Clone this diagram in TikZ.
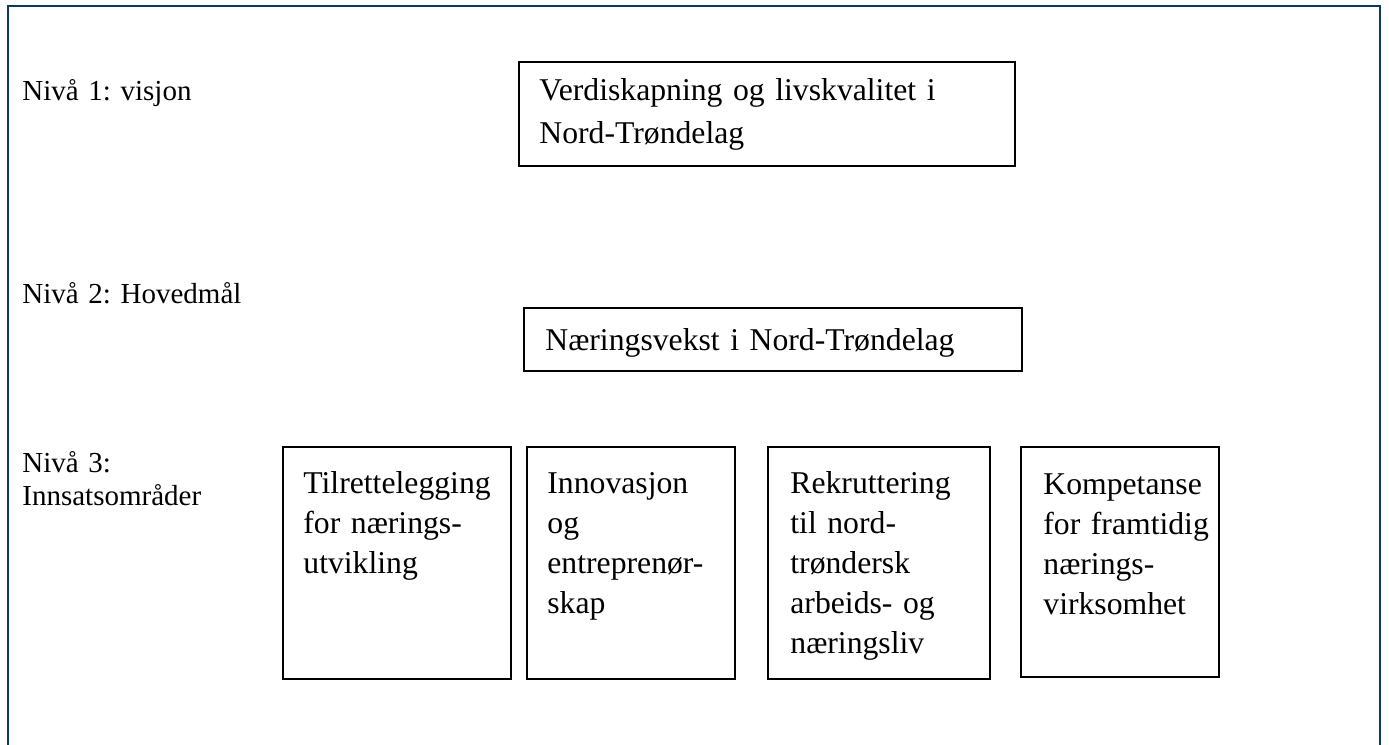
\documentclass[tikz,border=0pt]{standalone}
\usepackage{fontspec}
\setmainfont{Liberation Serif}
\definecolor{framecol}{HTML}{0B3B58}
\frenchspacing
\begin{document}
\begin{tikzpicture}[x=0.5pt,y=-0.5pt,
  box/.style={draw=black,line width=0.9pt,rectangle,inner sep=0pt},
  boxtext/.style={inner sep=0pt,anchor=base west,align=left,text width=#1},
  boxtext/.default=120pt,
  lvl/.style={inner sep=0pt,anchor=base west,align=left,text width=200pt,
    font=\fontsize{14.5}{16.5}\selectfont}
]
\useasboundingbox (0,0) rectangle (1389,745);
\coordinate (fbl) at (8,746);
\coordinate (ftl) at (8,6);
\coordinate (ftr) at (1380,6);
\coordinate (fbr) at (1380,746);
\draw[framecol,line width=1.1pt] (fbl) -- (ftl) -- (ftr) -- (fbr);

% level labels
\node[lvl] (l1) at (22,100) {Nivå 1: visjon};
\node[lvl] (l2) at (22,303) {Nivå 2: Hovedmål};
\node[lvl] (l3) at (22,472) {Nivå 3:\\Innsatsområder};

% boxes
\draw[box] (519,62) rectangle (1015,166);
\node[boxtext=240pt,font=\fontsize{15.85}{21.5}\selectfont] (vis) at (539,100) {Verdiskapning og livskvalitet i\\Nord-Trøndelag};

\draw[box] (524,308) rectangle (1022,371);
\node[boxtext=240pt,font=\fontsize{15.85}{20}\selectfont] (hov) at (545,350) {Næringsvekst i Nord-Trøndelag};

\draw[box] (283,447) rectangle (511,679);
\node[boxtext,font=\fontsize{15.85}{20}\selectfont] (b1) at (303,493) {Tilrettelegging\\for nærings-\\utvikling};

\draw[box] (527,447) rectangle (735,679);
\node[boxtext,font=\fontsize{15.85}{20}\selectfont] (b2) at (547,493) {Innovasjon\\og\\entreprenør-\\skap};

\draw[box] (768,447) rectangle (990,679);
\node[boxtext,font=\fontsize{15.85}{20}\selectfont] (b3) at (790,493) {Rekruttering\\til nord-\\trøndersk\\arbeids- og\\næringsliv};

\draw[box] (1021,447) rectangle (1219,677);
\node[boxtext,font=\fontsize{15.85}{20}\selectfont] (b4) at (1043,494) {Kompetanse\\for framtidig\\nærings-\\virksomhet};
\end{tikzpicture}
\end{document}
